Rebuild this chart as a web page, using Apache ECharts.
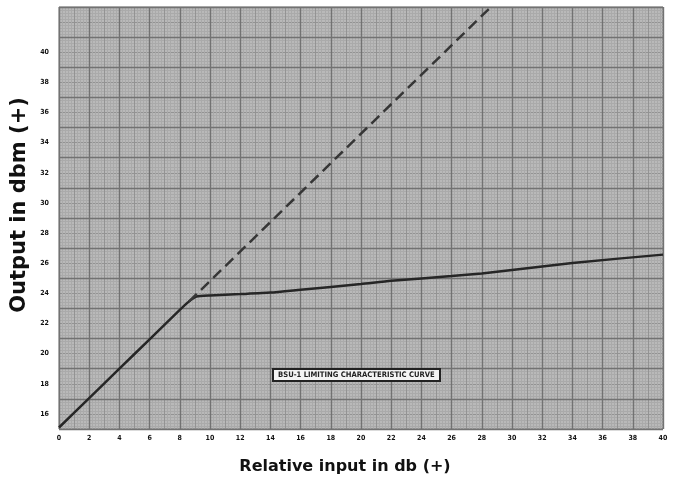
<!DOCTYPE html>
<html>
<head>
<meta charset="utf-8">
<script src="https://cdn.jsdelivr.net/npm/echarts@6/dist/echarts.min.js"></script>
<style>html,body{margin:0;padding:0;background:#fff}#c{width:673px;height:482px}</style>
</head>
<body>
<div id="c"></div>
<script>
// Data
var xTickValues = [0,2,4,6,8,10,12,14,16,18,20,22,24,26,28,30,32,34,36,38,40];
var yTickLabels = [16,18,20,22,24,26,28,30,32,34,36,38,40];
var limitingCurve = [[0,15.1],[2,17.05],[4,19.0],[6,20.95],[8,22.9],[8.6,23.45],[9.1,23.78],[10,23.86],[12,23.95],[14,24.05],[16,24.24],[20,24.62],[22,24.83],[26,25.15],[28,25.32],[30,25.55],[34,26.02],[40,26.57]];
var linearExtension = [[8.6,23.45],[28.6,43.0]];
var boxLabel = 'BSU-1 LIMITING CHARACTERISTIC CURVE';
var xTitle = 'Relative input in db (+)';
var yTitle = 'Output in dbm (+)';

var chart = echarts.init(document.getElementById('c'));
var hidden = {show:false};
var lblFont = {fontFamily:'DejaVu Sans Condensed', fontWeight:'bold', fontSize:7, color:'#111'};
chart.setOption({
  animation:false,
  backgroundColor:'#fff',
  grid:{left:59, right:10, top:7, bottom:53, show:true, backgroundColor:'#b9b9b9', borderColor:'#777', borderWidth:1},
  title:{text:boxLabel, left:273, top:369, padding:[2,5],
    backgroundColor:'#f4f4f4', borderColor:'#222', borderWidth:2,
    textStyle:{fontSize:7.6, fontWeight:'bold', color:'#222', fontFamily:'DejaVu Sans Condensed'}},
  graphic:[
    {type:'text', x:345, y:467, style:{text:xTitle, align:'center', verticalAlign:'middle',
      font:'bold 16px "DejaVu Sans"', fill:'#111'}},
    {type:'text', x:20, y:205, rotation:Math.PI/2, style:{text:yTitle, align:'center', verticalAlign:'middle',
      font:'bold 21px "DejaVu Sans"', fill:'#111'}}
  ],
  xAxis:[
    {type:'value', min:0, max:40, interval:2, z:5,
     axisLine:hidden, axisTick:hidden,
     axisLabel:Object.assign({margin:6, formatter:function(v){return xTickValues.indexOf(v)>=0? String(v):'';}}, lblFont),
     splitLine:{show:true, lineStyle:{color:'#727272', width:1.4}}},
    {type:'value', min:0, max:40, interval:1, z:3,
     axisLine:hidden, axisTick:hidden, axisLabel:hidden,
     splitLine:{show:true, lineStyle:{color:'#939393', width:1}},
     minorTick:{show:false, splitNumber:5},
     minorSplitLine:{show:true, lineStyle:{color:'#aaaaaa', width:1}}}
  ],
  yAxis:[
    {type:'value', min:15, max:43, interval:1, z:3,
     axisLine:hidden, axisTick:hidden,
     axisLabel:Object.assign({margin:10, formatter:function(v){return yTickLabels.indexOf(v)>=0? String(v):'';}}, lblFont),
     splitLine:{show:true, lineStyle:{color:'#939393', width:1}},
     minorTick:{show:false, splitNumber:5},
     minorSplitLine:{show:true, lineStyle:{color:'#aaaaaa', width:1}}},
    {type:'value', min:15, max:43, interval:2, z:5,
     axisLine:hidden, axisTick:hidden, axisLabel:hidden,
     splitLine:{show:true, lineStyle:{color:'#727272', width:1.4}}}
  ],
  series:[
    {type:'line', xAxisIndex:0, yAxisIndex:0, data:limitingCurve, showSymbol:false, smooth:0.2, z:10,
     lineStyle:{color:'#262626', width:2.5}},
    {type:'line', xAxisIndex:0, yAxisIndex:0, data:linearExtension, showSymbol:false, z:10,
     lineStyle:{color:'#363636', width:2.5, type:[11,6]}}
  ]
});
</script>
</body>
</html>
